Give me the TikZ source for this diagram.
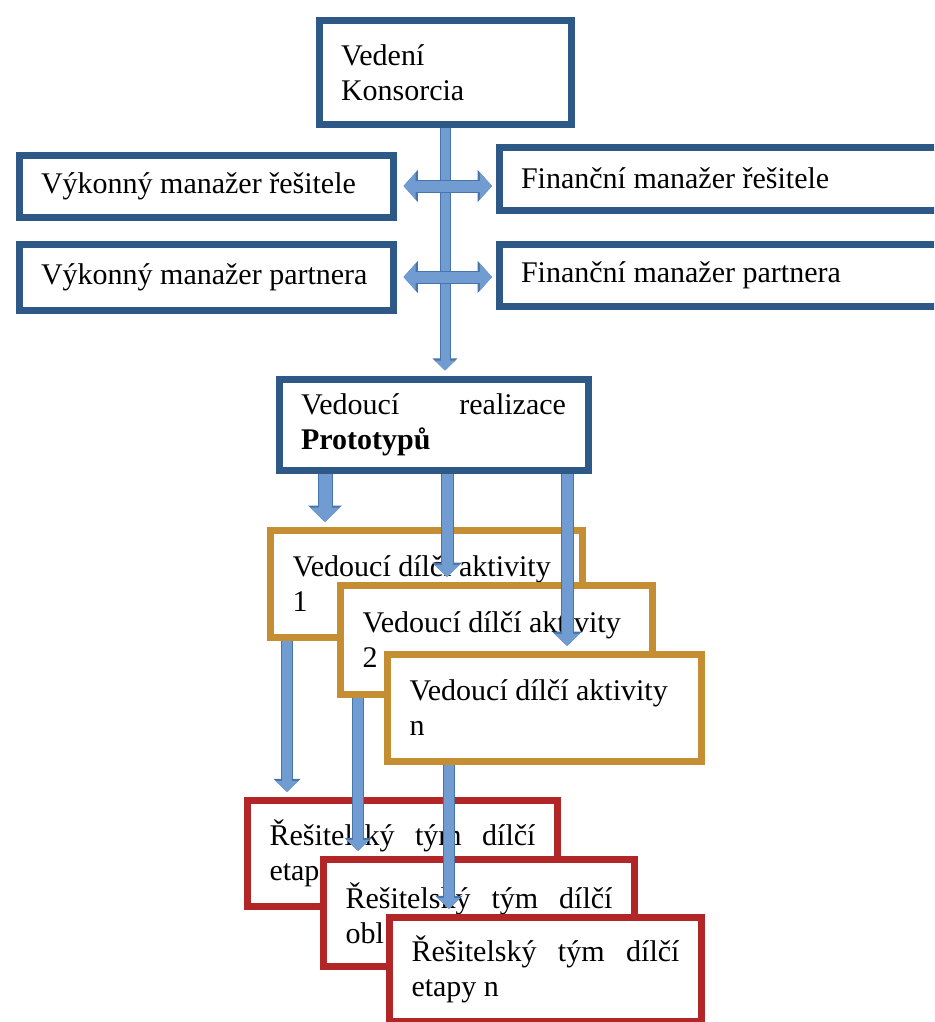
\documentclass[tikz,border=0pt]{standalone}
\usepackage{fontspec}
\setmainfont{Liberation Serif}
\usetikzlibrary{arrows.meta}
\definecolor{boxblue}{RGB}{46,88,134}
\definecolor{arrblue}{RGB}{112,156,210}
\definecolor{arredge}{RGB}{72,116,172}
\definecolor{boxorange}{RGB}{198,142,50}
\definecolor{boxred}{RGB}{178,38,40}
\newcommand{\boxfont}{\fontsize{30}{35}\selectfont}

\begin{document}
\begin{tikzpicture}[x=1pt, y=-1pt,
    box/.style={draw=#1, fill=white, line width=7pt, anchor=north west,
      inner xsep=22pt, inner ysep=0pt, align=flush left, font=\boxfont},
    blk/.style={line width=#1, draw=arrblue, shorten >=5pt,
      -{Triangle[width=0pt 2.2, length=0pt 1.1]},
      preaction={draw=arredge, line width=#1+2pt, shorten >=5pt,
        -{Triangle[width=0pt 2.2, length=0pt 1.1]}}},
    blk2/.style={line width=11pt, draw=arrblue, shorten <=7pt, shorten >=3.5pt,
      {Triangle[width=0pt 2.4, length=0pt 1.1]}-{Triangle[width=0pt 2.4, length=0pt 1.1]},
      preaction={draw=arredge, line width=13pt, shorten <=7pt, shorten >=3.5pt,
        {Triangle[width=0pt 2.4, length=0pt 1.1]}-{Triangle[width=0pt 2.4, length=0pt 1.1]}}}]
    \useasboundingbox (0,0) rectangle (934,1022);
    \clip (0,0) rectangle (934,1022);

    % vedeni and managers
    \node[box=boxblue, text width=208pt, minimum height=104pt] (vedeni) at (315.5,17.5) {Vedení\\Konsorcia};
    \node[box=boxblue, text width=330pt, minimum height=62pt] (vykonny1) at (15.5,151.5) {Výkonný manažer řešitele};
    \node[box=boxblue, text width=416pt, minimum height=63pt] (financni1) at (495.5,143.5) {Finanční manažer řešitele};
    \node[box=boxblue, text width=330pt, minimum height=66pt] (vykonny2) at (15.5,240.5) {Výkonný manažer partnera};
    \node[box=boxblue, text width=416pt, minimum height=62pt] (financni2) at (495.5,240.5) {Finanční manažer partnera};
    \node[box=boxblue, text width=265pt, minimum height=91pt] (realizace) at (275.5,375.5) {Vedoucí\hfill realizace\\\textbf{Prototypů}};

    % aktivity
    \node[box=boxorange, text width=268pt, minimum height=107pt] (aktivita1) at (267,527) {Vedoucí dílčí aktivity\\1};
    \node[box=boxorange, text width=268pt, minimum height=109pt] (aktivita2) at (337,582) {Vedoucí dílčí aktivity\\2};
    \node[box=boxorange, text width=270pt, minimum height=107pt] (aktivitan) at (384,651) {Vedoucí dílčí aktivity\\n};

    % tymy
    \node[box=boxred, text width=266pt, minimum height=106pt] (tym1) at (244,797) {Řešitelský\hfill tým\hfill dílčí\\etap};
    \node[box=boxred, text width=267pt, minimum height=107pt] (tym2) at (320,856) {Řešitelský\hfill tým\hfill dílčí\\obl};
    \node[box=boxred, text width=268pt, minimum height=104pt] (tymn) at (386,914) {Řešitelský\hfill tým\hfill dílčí\\etapy n};

    \coordinate (ra) at ([xshift=49.5pt]realizace.south west);
    \coordinate (rb) at ([xshift=171.5pt]realizace.south west);
    \coordinate (rc) at ([xshift=291.5pt]realizace.south west);
    \coordinate (a1) at ([xshift=20pt]aktivita1.south west);
    \coordinate (a2) at ([xshift=21pt]aktivita2.south west);
    \coordinate (an) at ([xshift=65pt]aktivitan.south west);

    \draw[blk=9pt] (vedeni.south) -- (vedeni.south |- realizace.north);
    \draw[blk2] (vykonny1.east) -- (vykonny1.east -| financni1.west);
    \draw[blk2] (vykonny2.east) -- (vykonny2.east -| financni2.west);

    \draw[blk=13pt] (ra) -- (ra |- aktivita1.north);
    \draw[blk=11pt] (rb) -- (rb |- aktivita2.north);
    \draw[blk=11pt] (rc) -- (rc |- aktivitan.north);
    \draw[blk=10pt] (a1) -- (a1 |- tym1.north);
    \draw[blk=10pt] (a2) -- (a2 |- tym2.north);
    \draw[blk=10pt] (an) -- (an |- tymn.north);
\end{tikzpicture}
\end{document}
